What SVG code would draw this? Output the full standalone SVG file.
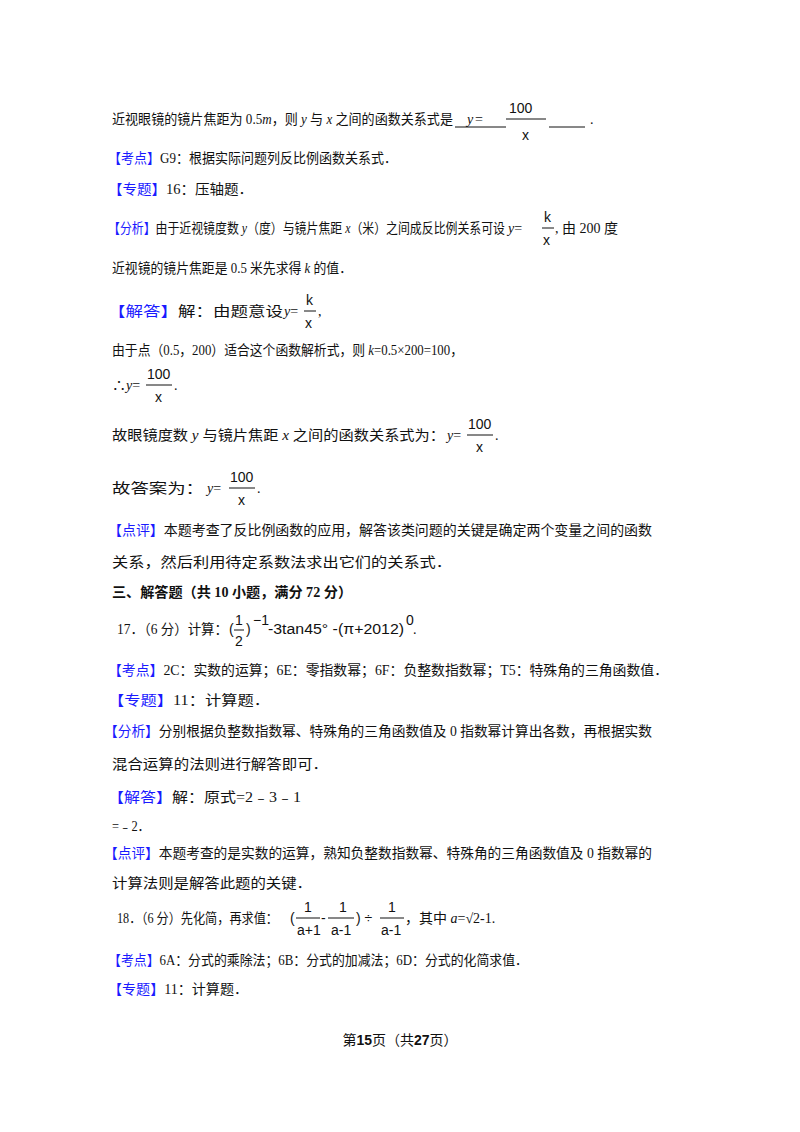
<svg xmlns="http://www.w3.org/2000/svg" width="800" height="1132" viewBox="0 0 800 1132">
<style>
text{font-family:"Liberation Serif","Noto Sans CJK SC",serif;font-size:14px;fill:#111}
.b{fill:#1a1aff}
.m{font-family:"Liberation Sans","Noto Sans CJK SC",sans-serif;font-size:14px}
.i{font-style:italic}
.f{stroke:#111;stroke-width:1}
</style>
<rect width="800" height="1132" fill="#fff"/>
<text x="112" y="124" textLength="341" lengthAdjust="spacingAndGlyphs">近视眼镜的镜片焦距为 0.5<tspan class="i">m</tspan>，则 <tspan class="i">y</tspan> 与 <tspan class="i">x</tspan> 之间的函数关系式是</text>
<line x1="455" y1="127" x2="506" y2="127" class="f"/><line x1="549" y1="127" x2="585" y2="127" class="f"/>
<text x="467" y="124" class="i">y</text><text x="475" y="124">=</text>
<text x="509" y="113" class="m">100</text><line x1="506" y1="119" x2="546" y2="119" class="f"/><text x="522" y="140" class="m">x</text>
<text x="590" y="124">.</text>

<text x="108" y="163" textLength="289" lengthAdjust="spacingAndGlyphs"><tspan class="b">【考点】</tspan>G9：根据实际问题列反比例函数关系式．</text>
<text x="108" y="194" textLength="145" lengthAdjust="spacingAndGlyphs"><tspan class="b">【专题】</tspan>16：压轴题．</text>
<text x="108" y="233" textLength="397" lengthAdjust="spacingAndGlyphs"><tspan class="b">【分析】</tspan>由于近视镜度数 <tspan class="i">y</tspan>（度）与镜片焦距 <tspan class="i">x</tspan>（米）之间成反比例关系可设</text>
<text x="508" y="233"><tspan class="i">y</tspan>=</text>
<text x="544" y="222" class="m">k</text><line x1="542" y1="228" x2="554" y2="228" class="f"/><text x="543" y="245" class="m">x</text>
<text x="555" y="233">, 由 200 度</text>
<text x="112" y="273" textLength="240" lengthAdjust="spacingAndGlyphs">近视镜的镜片焦距是 0.5 米先求得 <tspan class="i">k</tspan> 的值．</text>

<text x="108" y="316" textLength="175" lengthAdjust="spacingAndGlyphs"><tspan class="b">【解答】</tspan>解：由题意设</text>
<text x="284" y="316"><tspan class="i">y</tspan>=</text>
<text x="306" y="305" class="m">k</text><line x1="304" y1="311" x2="316" y2="311" class="f"/><text x="305" y="328" class="m">x</text>
<text x="318" y="316">,</text>
<text x="112" y="355" textLength="351" lengthAdjust="spacingAndGlyphs">由于点（0.5，200）适合这个函数解析式，则 <tspan class="i">k</tspan>=0.5×200=100，</text>
<text x="112" y="390">∴<tspan class="i">y</tspan>=</text>
<text x="147" y="379" class="m">100</text><line x1="146" y1="385" x2="172" y2="385" class="f"/><text x="155" y="402" class="m">x</text>
<text x="174" y="390">.</text>
<text x="112" y="440" textLength="333" lengthAdjust="spacingAndGlyphs">故眼镜度数 <tspan class="i">y</tspan> 与镜片焦距 <tspan class="i">x</tspan> 之间的函数关系式为：</text>
<text x="447" y="440"><tspan class="i">y</tspan>=</text>
<text x="468" y="429" class="m">100</text><line x1="467" y1="435" x2="493" y2="435" class="f"/><text x="476" y="452" class="m">x</text>
<text x="495" y="440">.</text>
<text x="112" y="493" textLength="92" lengthAdjust="spacingAndGlyphs">故答案为：</text>
<text x="207" y="493"><tspan class="i">y</tspan>=</text>
<text x="230" y="482" class="m">100</text><line x1="229" y1="488" x2="255" y2="488" class="f"/><text x="238" y="505" class="m">x</text>
<text x="257" y="493">.</text>
<text x="108" y="535" textLength="544" lengthAdjust="spacingAndGlyphs"><tspan class="b">【点评】</tspan>本题考查了反比例函数的应用，解答该类问题的关键是确定两个变量之间的函数</text>
<text x="112" y="567" textLength="340" lengthAdjust="spacingAndGlyphs">关系，然后利用待定系数法求出它们的关系式．</text>

<text x="112" y="597" font-weight="bold" textLength="240" lengthAdjust="spacingAndGlyphs">三、解答题（共 10 小题，满分 72 分）</text>

<text x="117" y="634" textLength="111" lengthAdjust="spacingAndGlyphs">17．（6 分）计算：</text>
<text x="229" y="634" class="m">(</text><text x="235" y="625" class="m">1</text><line x1="234" y1="630" x2="244" y2="630" class="f"/><text x="235" y="646" class="m">2</text>
<text x="246" y="634" class="m">)</text><text x="253" y="625" class="m">−1</text>
<text x="268" y="634" class="m" textLength="136" lengthAdjust="spacingAndGlyphs">-3tan45°  -(π+2012)</text><text x="406" y="625" class="m">0</text><text x="413" y="634">.</text>
<text x="108" y="675" textLength="560" lengthAdjust="spacingAndGlyphs"><tspan class="b">【考点】</tspan>2C：实数的运算；6E：零指数幂；6F：负整数指数幂；T5：特殊角的三角函数值．</text>
<text x="108" y="705" textLength="162" lengthAdjust="spacingAndGlyphs"><tspan class="b">【专题】</tspan>11：计算题．</text>
<text x="104" y="736" textLength="548" lengthAdjust="spacingAndGlyphs"><tspan class="b">【分析】</tspan>分别根据负整数指数幂、特殊角的三角函数值及 0 指数幂计算出各数，再根据实数</text>
<text x="112" y="769" textLength="216" lengthAdjust="spacingAndGlyphs">混合运算的法则进行解答即可．</text>
<text x="108" y="802" textLength="193" lengthAdjust="spacingAndGlyphs"><tspan class="b">【解答】</tspan>解：原式=2﹣3﹣1</text>
<text x="112" y="831" textLength="38" lengthAdjust="spacingAndGlyphs">=﹣2．</text>
<text x="104" y="858" textLength="548" lengthAdjust="spacingAndGlyphs"><tspan class="b">【点评】</tspan>本题考查的是实数的运算，熟知负整数指数幂、特殊角的三角函数值及 0 指数幂的</text>
<text x="112" y="888" textLength="200" lengthAdjust="spacingAndGlyphs">计算法则是解答此题的关键．</text>

<text x="117" y="923" textLength="161" lengthAdjust="spacingAndGlyphs">18．（6 分）先化简，再求值：</text>
<text x="290" y="923" class="m">(</text>
<text x="304" y="912" class="m">1</text><line x1="296" y1="918" x2="320" y2="918" class="f"/><text x="297" y="935" class="m">a+1</text>
<text x="321" y="923" class="m">-</text>
<text x="339" y="912" class="m">1</text><line x1="328" y1="918" x2="354" y2="918" class="f"/><text x="331" y="935" class="m">a-1</text>
<text x="356" y="923" class="m">) ÷</text>
<text x="388" y="912" class="m">1</text><line x1="380" y1="918" x2="404" y2="918" class="f"/><text x="381" y="935" class="m">a-1</text>
<text x="405" y="923">，其中 <tspan class="i">a</tspan>=√2-1.</text>
<text x="108" y="965" textLength="420" lengthAdjust="spacingAndGlyphs"><tspan class="b">【考点】</tspan>6A：分式的乘除法；6B：分式的加减法；6D：分式的化简求值．</text>
<text x="108" y="994" textLength="140" lengthAdjust="spacingAndGlyphs"><tspan class="b">【专题】</tspan>11：计算题．</text>
<text x="400" y="1045" text-anchor="middle">第<tspan font-weight="bold" class="m" font-size="17">15</tspan>页（共<tspan font-weight="bold" class="m" font-size="17">27</tspan>页）</text>
</svg>
